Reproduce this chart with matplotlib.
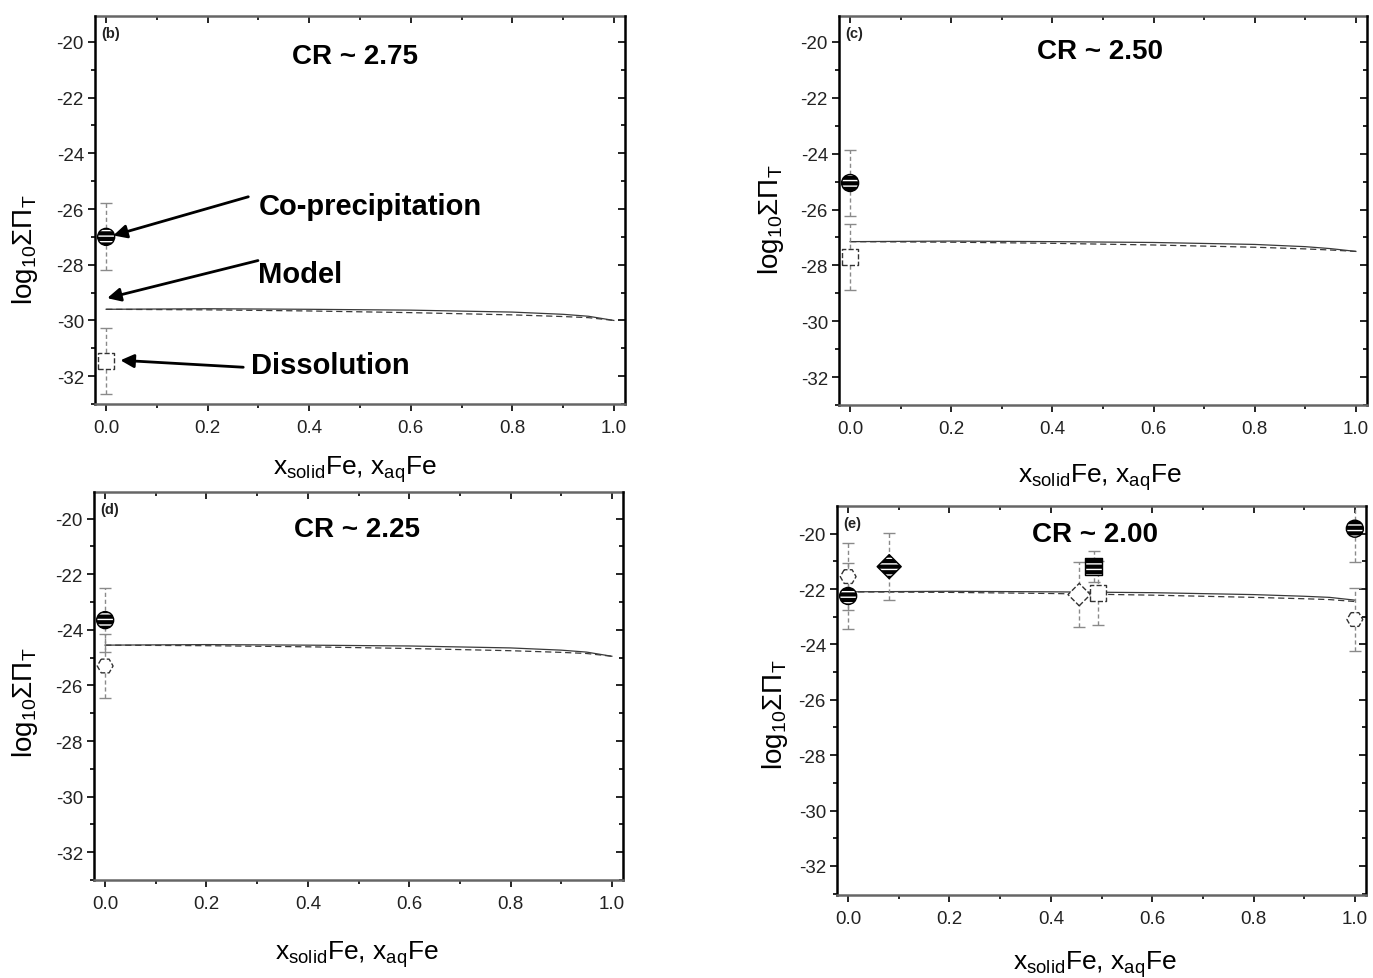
import matplotlib
matplotlib.use("Agg")
import matplotlib.pyplot as plt
import numpy as np

plt.rcParams['font.family'] = ['Liberation Sans', 'DejaVu Sans']
plt.rcParams['mathtext.fontset'] = 'custom'
plt.rcParams['mathtext.rm'] = 'Liberation Sans'
plt.rcParams['mathtext.it'] = 'Liberation Sans'

# ---------------- data ----------------
panel_tags = ['(b)', '(c)', '(d)', '(e)']
cr_labels = ['CR ~ 2.75', 'CR ~ 2.50', 'CR ~ 2.25', 'CR ~ 2.00']

model_x = [0.0, 0.2, 0.4, 0.6, 0.8, 0.9, 0.95, 1.0]
model_solid_b = [-29.60, -29.58, -29.60, -29.63, -29.70, -29.78, -29.85, -30.00]
model_dash_b = [-29.60, -29.62, -29.66, -29.72, -29.80, -29.86, -29.90, -30.00]
model_solid_c = [-27.15, -27.13, -27.15, -27.18, -27.25, -27.33, -27.40, -27.50]
model_dash_c = [-27.15, -27.17, -27.21, -27.27, -27.35, -27.41, -27.45, -27.50]
model_solid_d = [-24.55, -24.53, -24.55, -24.58, -24.65, -24.73, -24.80, -24.95]
model_dash_d = [-24.55, -24.57, -24.61, -24.67, -24.75, -24.81, -24.85, -24.95]
model_solid_e = [-22.10, -22.08, -22.10, -22.13, -22.20, -22.26, -22.30, -22.40]
model_dash_e = [-22.10, -22.12, -22.16, -22.22, -22.30, -22.35, -22.38, -22.45]

# co-precipitation (filled) and dissolution (open) points: x, y, yerr, marker
coprec_b = {'x': [0.0], 'y': [-27.0], 'err': [1.2], 'm': ['o']}
dissol_b = {'x': [0.0], 'y': [-31.45], 'err': [1.18], 'm': ['s']}
coprec_c = {'x': [0.0], 'y': [-25.05], 'err': [1.18], 'm': ['o']}
dissol_c = {'x': [0.0], 'y': [-27.7], 'err': [1.18], 'm': ['s']}
coprec_d = {'x': [0.0], 'y': [-23.65], 'err': [1.15], 'm': ['o']}
dissol_d = {'x': [0.0], 'y': [-25.3], 'err': [1.15], 'm': ['H']}
coprec_e = {'x': [0.0, 0.081, 0.485, 1.0], 'y': [-22.25, -21.19, -21.19, -19.82],
            'err': [1.2, 1.2, 0.55, 1.2], 'm': ['o', 'D', 's', 'o']}
dissol_e = {'x': [0.0, 0.456, 0.493, 1.0], 'y': [-21.55, -22.2, -22.15, -23.1],
            'err': [1.2, 1.18, 1.15, 1.15], 'm': ['H', 'D', 's', 'H']}

yticks = [-20, -22, -24, -26, -28, -30, -32]
xticks = [0.0, 0.2, 0.4, 0.6, 0.8, 1.0]

# ---------------- figure ----------------
W, H = 1373, 979
fig = plt.figure(figsize=(W / 100, H / 100), dpi=100)

def axes_px(l, t, r, b):
    return fig.add_axes([l / W, 1 - b / H, (r - l) / W, (b - t) / H])

ax_b = axes_px(95, 17, 625, 405)
ax_c = axes_px(839, 17, 1367, 406)
ax_d = axes_px(94, 493, 623, 881)
ax_e = axes_px(837, 507, 1366, 896)

panels = [
    (ax_b, model_solid_b, model_dash_b, coprec_b, dissol_b, (-33.0, -19.07)),
    (ax_c, model_solid_c, model_dash_c, coprec_c, dissol_c, (-33.0, -19.07)),
    (ax_d, model_solid_d, model_dash_d, coprec_d, dissol_d, (-32.9, -19.04)),
    (ax_e, model_solid_e, model_dash_e, coprec_e, dissol_e, (-33.05, -19.0)),
]
cr_pos = [(0.49, 0.897), (0.494, 0.91), (0.497, 0.905), (0.488, 0.928)]
ylab_pos = [(-0.104, 0.40), (-0.10, 0.48), (-0.102, 0.46), (-0.089, 0.465)]
xlab_pos = [(0.49, -0.128), (0.494, -0.146), (0.497, -0.151), (0.488, -0.138)]

grey = '#8a8a8a'
for i, (ax, ms, md, cp, ds, ylim) in enumerate(panels):
    ax.set_xlim(-0.022, 1.022)
    ax.set_ylim(*ylim)
    ax.plot(model_x, ms, color='#3a3a3a', lw=0.9, zorder=2)
    ax.plot(model_x, md, color='#3a3a3a', lw=0.9, ls=(0, (5, 3)), zorder=2)
    for grp, filled in ((ds, False), (cp, True)):
        for x, y, e, m in zip(grp['x'], grp['y'], grp['err'], grp['m']):
            eb = ax.errorbar([x], [y], yerr=[e], fmt='none', ecolor=grey,
                             elinewidth=1.0, capsize=4, capthick=1.0, zorder=3)
            for lc in eb[2]:
                lc.set_linestyle((0, (3, 2)))
            if filled:
                ax.scatter([x], [y], marker=m, s=150, facecolor='black',
                           edgecolor='white', hatch='---', linewidth=0.0, zorder=5)
                ax.scatter([x], [y], marker=m, s=150, facecolor='none',
                           edgecolor='black', linewidth=1.0, zorder=6)
            else:
                ax.scatter([x], [y], marker=m, s=130, facecolor='white',
                           edgecolor='#333333', linewidth=1.0, linestyle='--', zorder=4)

    ax.set_xticks(xticks)
    ax.set_xticklabels(['%.1f' % v for v in xticks])
    ax.set_xticks(np.arange(0.1, 1.0, 0.2), minor=True)
    ax.set_yticks(yticks)
    ax.set_yticklabels(['%d' % v for v in yticks])
    ax.set_yticks(np.arange(-33, -19, 2), minor=True)
    ax.tick_params(axis='both', which='major', labelsize=13.5, labelcolor='#222222',
                   length=5, width=1.2)
    ax.tick_params(axis='both', which='minor', length=3, width=1.2)
    ax.tick_params(axis='x', which='both', direction='out', top=False, bottom=True, pad=6)
    ax.tick_params(axis='y', which='both', direction='out', left=True, right=False, pad=3)

    # top ticks (inward) and right ticks (inward)
    sx = ax.secondary_xaxis('top')
    sx.set_xticks(xticks)
    sx.set_xticks(np.arange(0.1, 1.0, 0.2), minor=True)
    sx.tick_params(which='both', direction='in', labeltop=False, length=5, width=1.2)
    sx.tick_params(which='minor', length=3)
    sx.spines['top'].set_color('#666666')
    sx.spines['top'].set_linewidth(1.8)
    sy = ax.secondary_yaxis('right')
    sy.set_yticks(yticks)
    sy.set_yticks(np.arange(-33, -19, 2), minor=True)
    sy.tick_params(which='both', direction='in', labelright=False, length=5, width=1.2)
    sy.tick_params(which='minor', length=3)
    sy.spines['right'].set_linestyle((0, (1.5, 1)))
    sy.spines['right'].set_linewidth(1.8)

    ax.spines['top'].set_visible(False)
    ax.spines['right'].set_visible(False)
    ax.spines['bottom'].set_color('#666666')
    ax.spines['bottom'].set_linewidth(1.8)
    ax.spines['left'].set_color('black')
    ax.spines['left'].set_linewidth(1.8)
    ax.spines['left'].set_linestyle((0, (1.5, 1)))

    ax.text(0.012, 0.975, panel_tags[i], transform=ax.transAxes, fontsize=10.5,
            fontweight='bold', ha='left', va='top', color='#222222')
    ax.text(cr_pos[i][0], cr_pos[i][1], cr_labels[i], transform=ax.transAxes,
            fontsize=20, fontweight='bold', ha='center', va='center')

    ax.set_ylabel(r'log$_{10}$$\Sigma\Pi_{T}$', fontsize=20)
    ax.yaxis.set_label_coords(*ylab_pos[i])
    ax.set_xlabel(r'x$_{\mathrm{solid}}$Fe, x$_{\mathrm{aq}}$Fe', fontsize=19)
    ax.xaxis.set_label_coords(*xlab_pos[i])

# annotations on panel (b)
arrow = dict(arrowstyle='-|>', color='black', lw=2.0, mutation_scale=20,
             shrinkA=0, shrinkB=0)
ax_b.annotate('', xy=(0.014, -26.95), xytext=(0.28, -25.56), arrowprops=arrow)
ax_b.text(0.30, -25.9, 'Co-precipitation', fontsize=21, fontweight='bold',
          ha='left', va='center')
ax_b.annotate('', xy=(0.002, -29.2), xytext=(0.299, -27.85), arrowprops=arrow)
ax_b.text(0.299, -28.35, 'Model', fontsize=21, fontweight='bold', ha='left', va='center')
ax_b.annotate('', xy=(0.028, -31.43), xytext=(0.27, -31.68), arrowprops=arrow)
ax_b.text(0.285, -31.6, 'Dissolution', fontsize=21, fontweight='bold', ha='left', va='center')

fig.savefig('out.png', dpi=100)
